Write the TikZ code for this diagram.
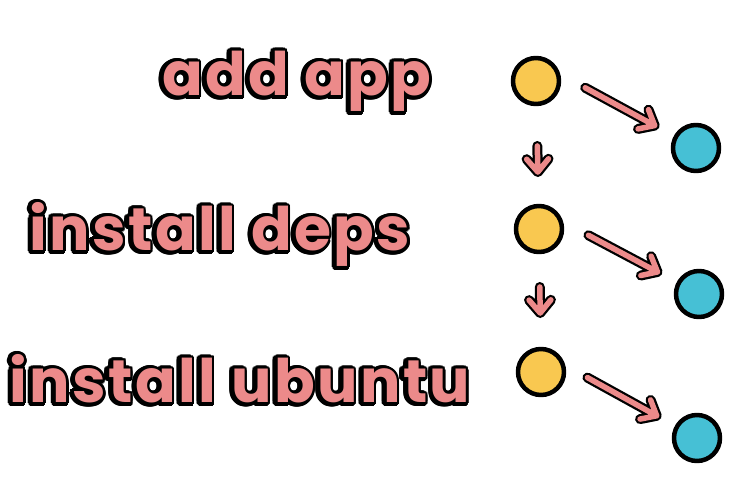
\documentclass[tikz,border=0pt]{standalone}
\usepackage{fontspec}
\newfontfamily\penfont[LetterSpace=4]{Poppins}
\usetikzlibrary{calc}
\definecolor{inkpink}{RGB}{236,138,138}
\definecolor{dotyellow}{RGB}{249,200,80}
\definecolor{dotblue}{RGB}{70,192,213}
% pink letters with a black rim, a bit heavier to the lower left
\newcommand\inkword[1]{%
  \foreach \a in {0,20,...,340}{%
    \pgfmathsetlengthmacro\dx{-1.2pt+3.6pt*cos(\a)}%
    \pgfmathsetlengthmacro\dy{-1.2pt+3.6pt*sin(\a)}%
    \rlap{\hspace*{\dx}\raisebox{\dy}{\color{black}#1}}}%
  #1}
\tikzset{
  dotbase/.style={circle, minimum size=46pt, inner sep=0pt, line width=4.5pt, draw=black},
  olddot/.style={dotbase, fill=dotyellow},
  newdot/.style={dotbase, fill=dotblue},
  penlabel/.style={anchor=base, inner sep=0pt, text=inkpink,
    font=\penfont\bfseries\fontsize{60}{60}\selectfont},
}
\begin{document}
\begin{tikzpicture}[x=1pt, y=-1pt, line cap=round, line join=round]
  \useasboundingbox (0,0) rectangle (742,483);
  % labels
  \node[penlabel] (addapp) at (297,95) {\inkword{add app}};
  \node[penlabel] (deps) at (220,250) {\inkword{install deps}};
  \node[penlabel] (ubuntu) at (240,402) {\inkword{install ubuntu}};
  % layers and their new copies
  \node[olddot] (y1) at (536,81) {};
  \node[olddot] (y2) at (539,229) {};
  \node[olddot] (y3) at (541,372) {};
  \node[newdot] (b1) at (696,148) {};
  \node[newdot] (b2) at (699,294) {};
  \node[newdot] (b3) at (697,438) {};
  \foreach \n in {1,2,3}
    { \coordinate (up\n) at ($(y\n)+(0,-20)$); }
  % arrows: tail, head and two barbs; black rim first, pink on top
  \foreach \from/\to/\s/\e [count=\i] in {y1/y2/65/57, y2/y3/58/59, up1/b1/56/47, up2/b2/56/47, up3/b3/53/46}
    { \coordinate (t\i) at ($(\from)!\s pt!(\to)$);
      \coordinate (h\i) at ($(\to)!\e pt!(\from)$);
      \foreach \c/\w in {black/10pt, inkpink/5.5pt}
        \draw[line width=\w, color=\c] (t\i) -- (h\i)
          ($(h\i)!17pt!40:(t\i)$) -- (h\i) -- ($(h\i)!17pt!-40:(t\i)$); }
\end{tikzpicture}
\end{document}
